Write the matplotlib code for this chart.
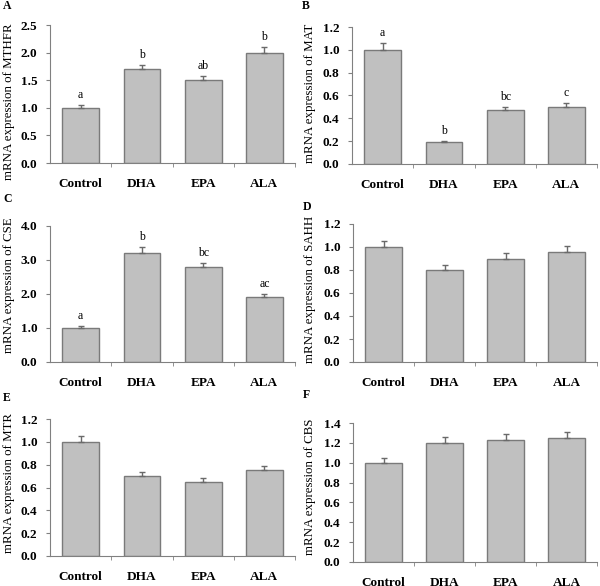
import matplotlib
matplotlib.use("Agg")
import matplotlib.pyplot as plt
from matplotlib.ticker import FixedLocator
import numpy as np

categories = ["Control", "DHA", "EPA", "ALA"]

mthfr = [1.0, 1.7, 1.5, 2.0]
mthfr_err = [0.05, 0.08, 0.07, 0.10]
mthfr_sig = ["a", "b", "ab", "b"]

mat = [1.0, 0.19, 0.47, 0.50]
mat_err = [0.06, 0.01, 0.03, 0.035]
mat_sig = ["a", "b", "bc", "c"]

cse = [1.0, 3.2, 2.8, 1.9]
cse_err = [0.06, 0.17, 0.12, 0.10]
cse_sig = ["a", "b", "bc", "ac"]

sahh = [1.0, 0.80, 0.90, 0.96]
sahh_err = [0.05, 0.045, 0.05, 0.05]

mtr = [1.0, 0.70, 0.65, 0.75]
mtr_err = [0.055, 0.035, 0.03, 0.035]

cbs = [1.0, 1.20, 1.23, 1.25]
cbs_err = [0.05, 0.06, 0.06, 0.06]

W, H = 600, 586
plt.rcParams["font.family"] = ["Liberation Serif", "DejaVu Serif"]
fig = plt.figure(figsize=(W / 100, H / 100), dpi=100)

panels = [
    # letter, gene, values, errs, sig, ymax, ystep, axes box px (l, r, t, b),
    # letter pos px, label (right x, bottom y) px
    ("A", "MTHFR", mthfr, mthfr_err, mthfr_sig, 2.5, 0.5, (50, 295, 25, 163), (3, 0), (15, 180)),
    ("B", "MAT", mat, mat_err, mat_sig, 1.2, 0.2, (352, 597, 27, 164), (302, 0), (316, 163)),
    ("C", "CSE", cse, cse_err, cse_sig, 4.0, 1.0, (50, 295, 226, 362), (3, 193), (15, 353)),
    ("D", "SAHH", sahh, sahh_err, None, 1.2, 0.2, (353, 597, 224, 362), (303, 201), (316, 363)),
    ("E", "MTR", mtr, mtr_err, None, 1.2, 0.2, (50, 295, 419, 556), (3, 392), (15, 553)),
    ("F", "CBS", cbs, cbs_err, None, 1.4, 0.2, (353, 597, 423, 562), (303, 389), (316, 555)),
]

axis_col = "#808080"
x = np.arange(len(categories))
renderer = fig.canvas.get_renderer()

for letter, gene, vals, errs, sig, ymax, ystep, (l, r, t, b), (lx, ly), (lbx, lbb) in panels:
    ax = fig.add_axes([l / W, 1 - b / H, (r - l) / W, (b - t) / H])
    ax.bar(x, vals, width=0.6, color="#c0c0c0", edgecolor="#7a7a7a", linewidth=1.0, zorder=2)
    ax.errorbar(x, vals, yerr=[np.zeros(len(vals)), errs], fmt="none",
                ecolor="#6a6a6a", elinewidth=1.0, capsize=2.5, capthick=1.0, zorder=3)
    if sig:
        for xi, v, e, s in zip(x, vals, errs, sig):
            ax.text(xi, v + e + ymax * 0.03, s, ha="center", va="bottom", fontsize=8.5)
    ax.set_xlim(-0.5, len(categories) - 0.5)
    ax.set_ylim(0, ymax)
    ticks = np.arange(0, ymax + ystep / 2, ystep)
    ax.set_yticks(ticks)
    ax.set_yticklabels([f"{v:.1f}" for v in ticks], fontweight="bold", fontsize=9.5)
    ax.set_xticks(x)
    ax.set_xticklabels(categories, fontweight="bold", fontsize=9.5)
    ax.xaxis.set_minor_locator(FixedLocator(np.arange(0.5, len(categories) - 0.4, 1.0)))
    ax.tick_params(axis="x", which="major", length=0, pad=11)
    ax.tick_params(axis="x", which="minor", length=3, direction="out", color=axis_col)
    ax.tick_params(axis="y", which="major", length=3, direction="out", color=axis_col, pad=6)
    for sp in ["top", "right"]:
        ax.spines[sp].set_visible(False)
    for sp in ["left", "bottom"]:
        ax.spines[sp].set_color(axis_col)
        ax.spines[sp].set_linewidth(0.8)
    lab = ax.set_ylabel(f"mRNA expression of {gene}", fontsize=9.3)
    ext = lab.get_window_extent(renderer)
    cy = lbb - ext.height / 2
    ax.yaxis.set_label_coords((lbx - l) / (r - l), (b - cy) / (b - t))
    fig.text(lx / W, 1 - ly / H, letter, ha="left", va="top", fontsize=8.5, fontweight="bold")

fig.savefig("out.png", dpi=100)
